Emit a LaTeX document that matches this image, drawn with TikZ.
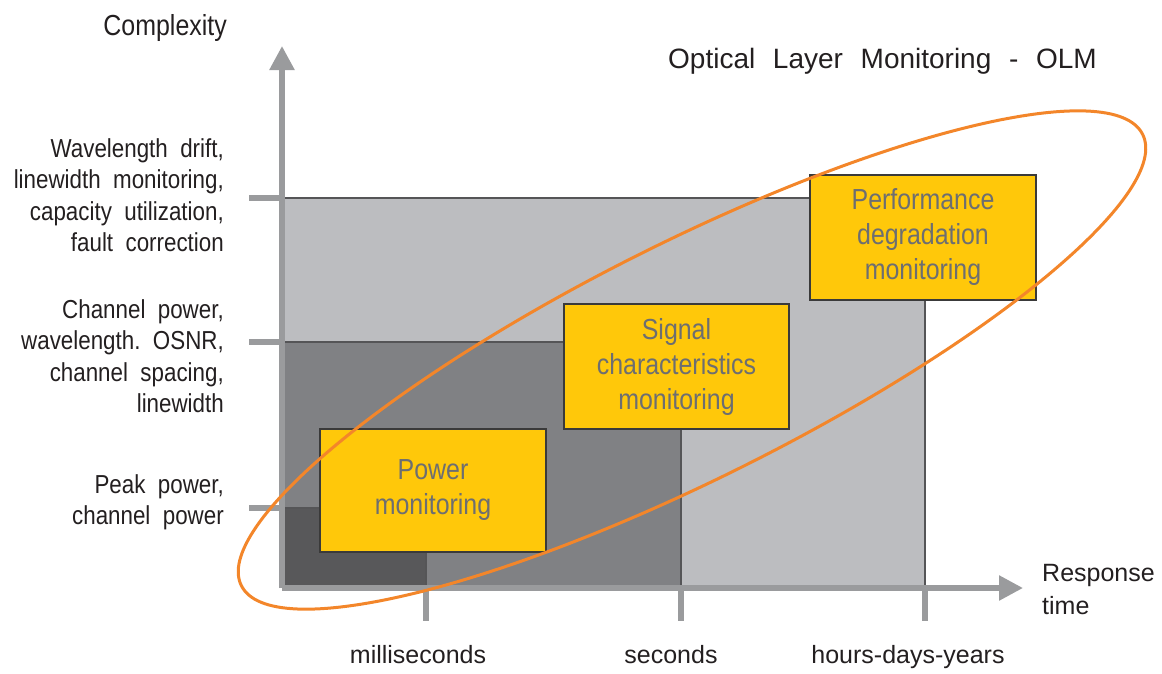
\documentclass[tikz,border=0pt]{standalone}
\usepackage{fontspec}
\setmainfont{Liberation Sans}
\newfontfamily\cfont{Liberation Sans}[FakeStretch=0.86, WordSpace=2]
\newfontfamily\titlefnt{Liberation Sans}[WordSpace=2.27]
\usetikzlibrary{arrows.meta, shapes.geometric}
\definecolor{axisgray}{HTML}{9A9B9D}
\definecolor{lightregion}{HTML}{BCBDC0}
\definecolor{midregion}{HTML}{808184}
\definecolor{darkregion}{HTML}{58585A}
\definecolor{edgegray}{HTML}{555557}
\definecolor{olmyellow}{HTML}{FFC80A}
\definecolor{boxedge}{HTML}{3A3A3A}
\definecolor{boxtext}{HTML}{6D6E71}
\definecolor{labeltext}{HTML}{231F20}
\definecolor{olmorange}{HTML}{F3862A}
\tikzset{
  regionedge/.style={draw=edgegray, line width=1.5pt},
  axisline/.style={draw=axisgray, line width=5.5pt, -{Triangle[length=24pt,width=24pt]}},
  tickline/.style={draw=axisgray, line width=5.5pt},
  olmbox/.style={draw=boxedge, line width=1.3pt, fill=olmyellow, text=boxtext,
    font=\cfont\fontsize{29}{35}\selectfont, align=center, inner sep=0pt,
    minimum width=226pt, minimum height=124pt},
  ylabel/.style={font=\cfont\fontsize{26}{31.5}\selectfont\frenchspacing, text=labeltext,
    align=right, anchor=north east, inner sep=0pt},
  xlabel/.style={font=\fontsize{25}{31}\selectfont, text=labeltext, anchor=base, inner sep=0pt},
  ring/.style={draw=olmorange, line width=3pt, ellipse, inner sep=0pt,
    minimum width=1008pt, minimum height=236pt}
}
\begin{document}
\begin{tikzpicture}[x=1pt, y=-1pt]
\useasboundingbox (0,0) rectangle (1162,673);
% regions
\fill[lightregion] (282,198) rectangle (925,588);
\draw[regionedge] (282,198) -- (925,198) -- (925,588);
\fill[midregion] (282,342) rectangle (681,588);
\draw[regionedge] (282,342) -- (681,342) -- (681,588);
\fill[darkregion] (282,508) rectangle (426,588);
\draw[regionedge] (282,508) -- (426,508) -- (426,588);
% axes
\coordinate (origin) at (282,588);
\coordinate (ytip) at (282,46);
\coordinate (xtip) at (1023,588);
\draw[axisline] (origin) -- (ytip);
\draw[axisline] (origin) -- (xtip);
% y ticks
\coordinate (yt1) at (249,198); \coordinate (ya1) at (282,198);
\coordinate (yt2) at (249,342); \coordinate (ya2) at (282,342);
\coordinate (yt3) at (249,508); \coordinate (ya3) at (282,508);
\draw[tickline] (yt1) -- (ya1);
\draw[tickline] (yt2) -- (ya2);
\draw[tickline] (yt3) -- (ya3);
% x ticks
\coordinate (xa1) at (426,588); \coordinate (xt1) at (426,621);
\coordinate (xa2) at (681,588); \coordinate (xt2) at (681,621);
\coordinate (xa3) at (925,588); \coordinate (xt3) at (925,621);
\draw[tickline] (xa1) -- (xt1);
\draw[tickline] (xa2) -- (xt2);
\draw[tickline] (xa3) -- (xt3);
% boxes
\node[olmbox, minimum height=123pt] (power) at (433,490.5) {Power\\monitoring};
\node[olmbox, minimum width=225pt, minimum height=125pt] (signal) at (676.5,366.5) {Signal\\characteristics\\monitoring};
\node[olmbox, minimum height=125pt] (perf) at (923,237.5) {Performance\\degradation\\monitoring};
% ring
\node[ring, rotate=26.6] (olmring) at (692,360) {};
% texts
\node[font=\cfont\fontsize{29}{35}\selectfont, text=labeltext, anchor=base east, inner sep=0pt] (complexity) at (227,35) {Complexity};
\node[font=\titlefnt\fontsize{28}{34}\selectfont, text=labeltext, anchor=base west, inner sep=0pt] (title) at (668,68) {Optical Layer Monitoring - OLM};
\node[ylabel] (lab1) at (224,138) {Wavelength drift,\\linewidth monitoring,\\capacity utilization,\\fault correction};
\node[ylabel] (lab2) at (224,299) {Channel power,\\wavelength. OSNR,\\channel spacing,\\linewidth};
\node[ylabel] (lab3) at (224,474) {Peak power,\\channel power};
\node[xlabel] (ms) at (418,663) {milliseconds};
\node[xlabel] (sec) at (671,663) {seconds};
\node[xlabel] (hdy) at (908,663) {hours-days-years};
\node[font=\fontsize{25}{33}\selectfont, text=labeltext, align=left, anchor=north west, inner sep=0pt] (resp) at (1042,564) {Response\\time};
\end{tikzpicture}
\end{document}
